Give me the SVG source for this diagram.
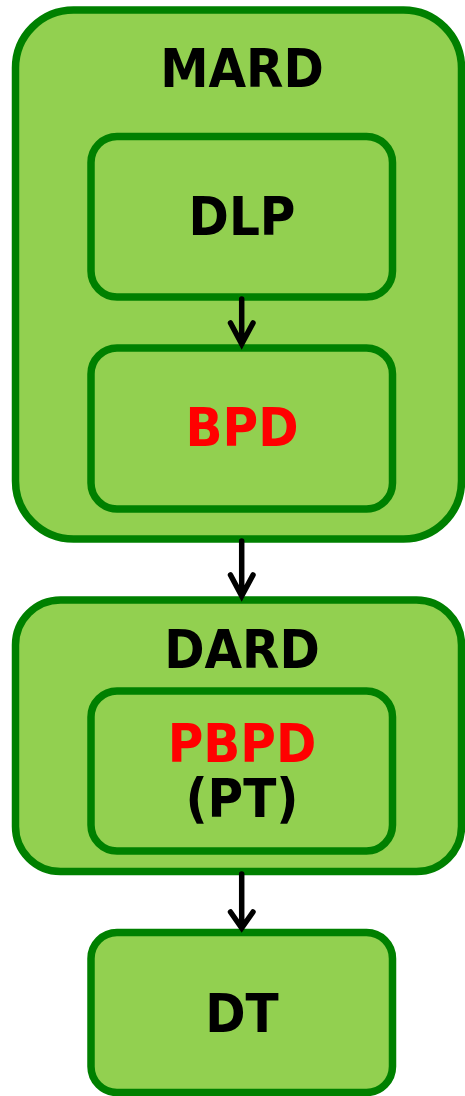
<svg xmlns="http://www.w3.org/2000/svg" width="465" height="1096" viewBox="0 0 465 1096">
<style>
.box{fill:#92D050;stroke:#008000;stroke-width:7.5}
.t{font-family:"DejaVu Sans Condensed","DejaVu Sans",sans-serif;font-weight:bold;font-size:54px;text-anchor:middle;fill:#000}
.r{fill:#FF0000}
.c{stroke:#000;stroke-width:5.5;fill:none;stroke-linecap:round;stroke-linejoin:miter}
</style>
<rect width="465" height="1096" fill="#fff"/>
<g id="MARD">
<rect class="box" x="15.5" y="10" width="446" height="529" rx="58"/>
<text class="t" x="242" y="87">MARD</text>
</g>
<g id="DLP">
<rect class="box" x="91" y="136.5" width="301.5" height="160.5" rx="26"/>
<text class="t" x="242" y="235">DLP</text>
</g>
<g id="BPD">
<rect class="box" x="91" y="348" width="301.5" height="161" rx="26"/>
<text class="t r" x="242" y="446">BPD</text>
</g>
<g id="DARD">
<rect class="box" x="15.5" y="600" width="446" height="271.5" rx="45"/>
<text class="t" x="242" y="668">DARD</text>
</g>
<g id="PBPD">
<rect class="box" x="91" y="691" width="301.5" height="160" rx="26"/>
<text class="t r" x="242" y="762">PBPD</text>
<text class="t" x="242" y="817">(PT)</text>
</g>
<g id="DT">
<rect class="box" x="91" y="932.5" width="301.5" height="160" rx="26"/>
<text class="t" x="242" y="1032">DT</text>
</g>
<g id="connectors">
<path class="c" d="M241.7 299 V344 M230.5 323 L241.7 344 L253 323"/>
<path class="c" d="M241.7 541 V596 M230.5 575 L241.7 596 L253 575"/>
<path class="c" d="M241.7 874 V928 M230.5 912 L241.7 928 L253 912"/>
</g>
</svg>
